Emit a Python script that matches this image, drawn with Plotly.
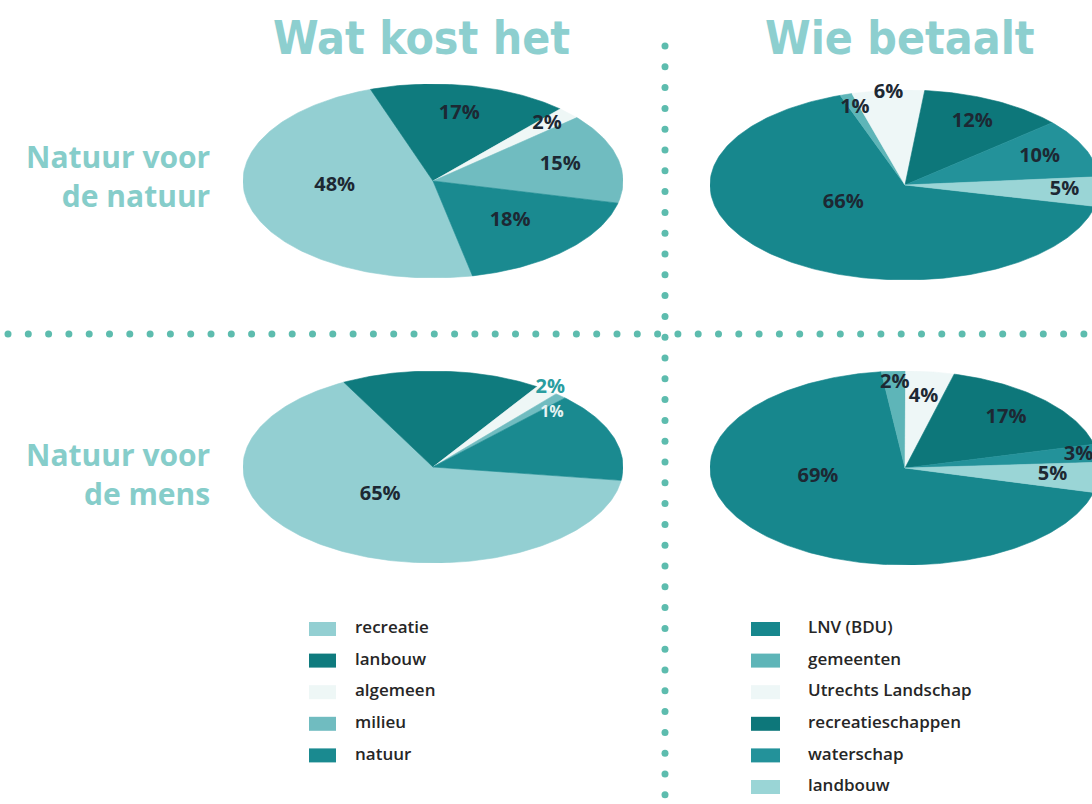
import numpy as np
import plotly.graph_objects as go

# ---------------- data ----------------
cost_categories = ["recreatie", "lanbouw", "algemeen", "milieu", "natuur"]
cost_nature = [48, 17, 2, 15, 18]        # Wat kost het - Natuur voor de natuur
cost_people = [65, 17, 2, 1, 15]         # Wat kost het - Natuur voor de mens

payer_categories = ["LNV (BDU)", "gemeenten", "Utrechts Landschap",
                    "recreatieschappen", "waterschap", "landbouw"]
pay_nature = [66, 1, 6, 12, 10, 5]       # Wie betaalt - Natuur voor de natuur
pay_people = [69, 2, 4, 17, 3, 5]        # Wie betaalt - Natuur voor de mens

column_titles = ["Wat kost het", "Wie betaalt"]
row_titles = ["Natuur voor<br>de natuur", "Natuur voor<br>de mens"]

# ---------------- style ----------------
W, H = 1092, 804
cost_colors = ["#93cfd2", "#0f7b7e", "#eef7f6", "#70bcc0", "#1a8a90"]
pay_colors = ["#17878d", "#5eb5b8", "#eef7f7", "#0d777a", "#23929a", "#9ad5d6"]
DARK = "#1d2833"
TEAL_TXT = "#2a9da0"
HEAD = "#8dcfcf"
ROWC = "#86cdca"
DOT = "#5dbcae"

pies = [
    dict(values=cost_nature, colors=cost_colors, start=-78, center=(433, 181), rx=190, ry=97,
         lr=[.52, .70, .84, .69, .58], ls=[-10, 0, 0, 0, 0],
         show=[1, 1, 1, 1, 1], lc=[DARK] * 5, fs=[20] * 5),
    dict(values=pay_nature, colors=pay_colors, start=-13, center=(905, 185), rx=195, ry=95,
         lr=[.37, .85, .97, .75, .75, .82], ls=[-17, 0, 0, 0, 0, 0],
         show=[1] * 6, lc=[DARK] * 6, fs=[20] * 6),
    dict(values=cost_people, colors=cost_colors, start=-8, center=(433, 467), rx=190, ry=96,
         lr=[.40, .6, 1.03, .84, .6], ls=[-9, 0, 0, -6, 0],
         show=[1, 0, 1, 1, 0], lc=[DARK, DARK, TEAL_TXT, "#e6f3f3", DARK], fs=[20, 20, 20, 16, 20]),
    dict(values=pay_people, colors=pay_colors, start=-14.6, center=(905, 468), rx=195, ry=97,
         lr=[.455, .88, .74, .73, .90, .76], ls=[-30, 0, 0, 0, 0, 0],
         show=[1] * 6, lc=[DARK] * 6, fs=[20] * 6),
]

fig = go.Figure()
layout_axes = {}

for k, p in enumerate(pies):
    ax = k + 2
    xa, ya = f"x{ax}", f"y{ax}"
    cx, cy = p["center"]
    x0 = cx - p["rx"]
    x1 = min(cx + p["rx"], W)
    layout_axes[f"xaxis{ax}"] = dict(domain=[x0 / W, x1 / W], range=[-1, (x1 - cx) / p["rx"]],
                                     visible=False, fixedrange=True, anchor=ya)
    layout_axes[f"yaxis{ax}"] = dict(domain=[1 - (cy + p["ry"]) / H, 1 - (cy - p["ry"]) / H],
                                     range=[-1, 1], visible=False, fixedrange=True, anchor=xa)
    t = p["start"]
    lx, ly, lt, lcol, lfs = [], [], [], [], []
    for i, v in enumerate(p["values"]):
        ta, tb = t, t - v * 3.6
        th = np.radians(np.linspace(ta, tb, max(3, int(v * 3.6) + 3)))
        xs = np.concatenate([[0], np.cos(th), [0]])
        ys = np.concatenate([[0], np.sin(th), [0]])
        fig.add_trace(go.Scatter(x=xs, y=ys, xaxis=xa, yaxis=ya, mode="lines", fill="toself",
                                 fillcolor=p["colors"][i],
                                 line=dict(color=p["colors"][i], width=0.6),
                                 hoverinfo="skip", showlegend=False))
        if p["show"][i]:
            mid = np.radians((ta + tb) / 2 + p["ls"][i])
            lx.append(p["lr"][i] * np.cos(mid))
            ly.append(p["lr"][i] * np.sin(mid))
            lt.append(f"{v}%")
            lcol.append(p["lc"][i])
            lfs.append(p["fs"][i])
        t = tb
    fig.add_trace(go.Scatter(x=lx, y=ly, xaxis=xa, yaxis=ya, mode="text", text=lt,
                             textfont=dict(family="Open Sans, DejaVu Sans, sans-serif", size=lfs,
                                           color=lcol, weight=700),
                             textposition="middle center", cliponaxis=False,
                             hoverinfo="skip", showlegend=False))

# ---------- dotted separators (page axes) ----------
hx = np.arange(8, W + 1, 20.3)
fig.add_trace(go.Scatter(x=hx, y=[334] * len(hx), mode="markers",
                         marker=dict(size=7, color=DOT), hoverinfo="skip", showlegend=False))
vy = np.arange(46, H + 1, 20.8)
fig.add_trace(go.Scatter(x=[665] * len(vy), y=vy, mode="markers",
                         marker=dict(size=7, color=DOT), hoverinfo="skip", showlegend=False))

# ---------- legends ----------
shapes = []
leg_specs = [
    (cost_categories, cost_colors, 309, 336, 355),
    (payer_categories, pay_colors, 751, 780, 808),
]
ROW0, ROWSTEP = 629, 31.6
for cats, cols, sx0, sx1, tx in leg_specs:
    ys = [ROW0 + i * ROWSTEP for i in range(len(cats))]
    for yv, c in zip(ys, cols):
        shapes.append(dict(type="rect", xref="x", yref="y", x0=sx0, x1=sx1, y0=yv - 7, y1=yv + 7,
                           fillcolor=c, line=dict(width=0), layer="above"))
    fig.add_trace(go.Scatter(x=[tx] * len(cats), y=ys, mode="text", text=cats,
                             textposition="middle right", cliponaxis=False,
                             textfont=dict(family="Open Sans, DejaVu Sans, sans-serif", size=17,
                                           color="#262626", weight=600),
                             hoverinfo="skip", showlegend=False))

# ---------- titles ----------
annotations = []
for txt, xc in zip(column_titles, [421, 900]):
    annotations.append(dict(text=txt, x=xc, y=38, xref="x", yref="y", showarrow=False,
                            xanchor="center", yanchor="middle",
                            font=dict(family="DejaVu Sans Condensed, Liberation Sans Narrow, sans-serif",
                                      size=46, color=HEAD, weight=700)))
for txt, yc in zip(row_titles, [176, 474]):
    annotations.append(dict(text=txt, x=212, y=yc, xref="x", yref="y", showarrow=False,
                            xanchor="right", yanchor="middle", align="right",
                            font=dict(family="Open Sans, DejaVu Sans, sans-serif",
                                      size=30, color=ROWC, weight=700)))

fig.update_layout(
    width=W, height=H, margin=dict(l=0, r=0, t=0, b=0),
    paper_bgcolor="white", plot_bgcolor="rgba(0,0,0,0)",
    xaxis=dict(domain=[0, 1], range=[0, W], visible=False, fixedrange=True),
    yaxis=dict(domain=[0, 1], range=[H, 0], visible=False, fixedrange=True),
    shapes=shapes, annotations=annotations, showlegend=False,
    **layout_axes,
)

fig.write_html("out.html", config={"displayModeBar": False},
               post_script="document.body.style.margin='0';document.body.style.padding='0';")
